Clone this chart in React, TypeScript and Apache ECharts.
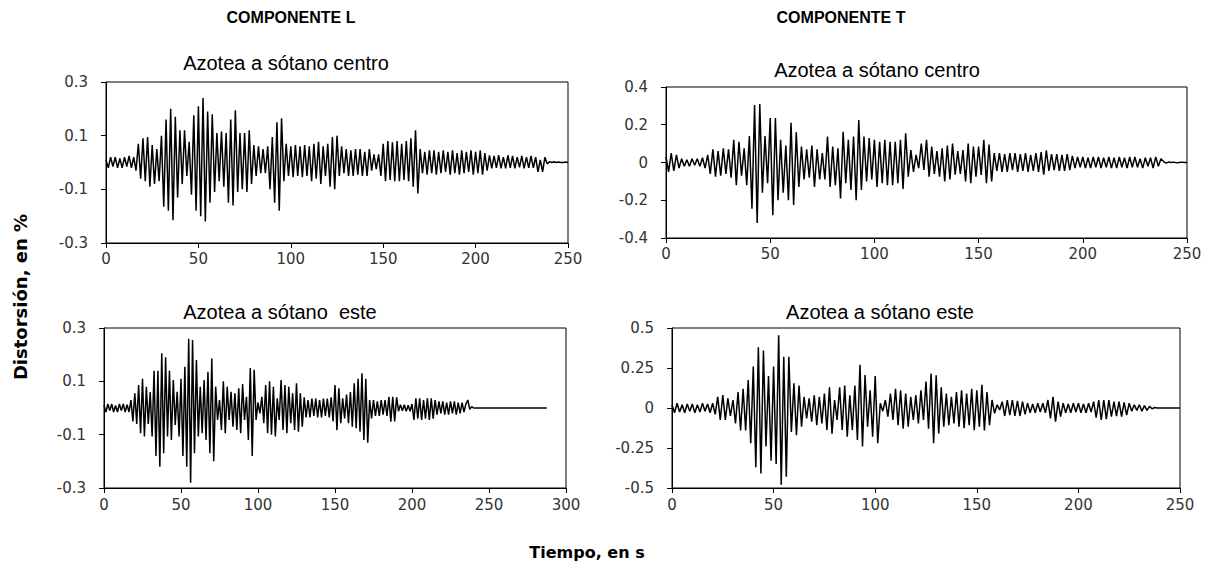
import { useEffect, useRef } from "react";
import * as echarts from "echarts";

// sampling step (s) of the digitised records
const DT = 1.25;

// Componente L, azotea a sótano centro (distorsión, %)
const lCentro = [
  0.01, -0.02, 0.02, -0.015, 0.02, -0.02, 0.015, -0.02, 0.02, -0.015,
  0.025, -0.02, 0.02, -0.03, 0.07, -0.06, 0.09, -0.07, 0.095, -0.09,
  0.065, -0.08, 0.05, -0.07, 0.1, -0.165, 0.16, -0.18, 0.2, -0.215,
  0.17, -0.13, 0.12, -0.08, 0.12, -0.05, 0.077, -0.12, 0.176, -0.18,
  0.21, -0.2, 0.24, -0.22, 0.19, -0.15, 0.18, -0.11, 0.11, -0.07,
  0.115, -0.09, 0.11, -0.15, 0.16, -0.16, 0.195, -0.11, 0.11, -0.1,
  0.11, -0.11, 0.12, -0.08, 0.065, -0.05, 0.06, -0.04, 0.05, -0.04,
  0.06, -0.1, 0.095, -0.15, 0.15, -0.18, 0.165, -0.07, 0.07, -0.05,
  0.06, -0.055, 0.065, -0.05, 0.06, -0.055, 0.065, -0.05, 0.06, -0.07,
  0.07, -0.06, 0.077, -0.08, 0.06, -0.05, 0.07, -0.09, 0.095, -0.1,
  0.1, -0.05, 0.06, -0.04, 0.05, -0.05, 0.045, -0.05, 0.05, -0.045,
  0.05, -0.05, 0.04, -0.05, 0.05, -0.03, 0.03, -0.025, 0.03, -0.05,
  0.07, -0.07, 0.08, -0.065, 0.075, -0.07, 0.08, -0.07, 0.07, -0.065,
  0.08, -0.07, 0.09, -0.09, 0.12, -0.115, 0.05, -0.04, 0.04, -0.045,
  0.045, -0.04, 0.045, -0.045, 0.04, -0.04, 0.045, -0.035, 0.04, -0.045,
  0.045, -0.04, 0.035, -0.045, 0.045, -0.04, 0.04, -0.035, 0.045, -0.045,
  0.04, -0.04, 0.045, -0.045, 0.035, -0.03, 0.027, -0.022, 0.025, -0.02,
  0.027, -0.022, 0.02, -0.022, 0.027, -0.02, 0.025, -0.022, 0.02, -0.018,
  0.025, -0.022, 0.02, -0.02, 0.025, -0.02, 0.02, -0.035, 0.01, -0.035,
  0.02, -0.005, 0.003, 0, 0.003, 0, 0.002, 0, 0, 0.002,
  0,
];

// Componente T, azotea a sótano centro
const tCentro = [
  0.03, -0.05, 0.05, -0.045, 0.04, -0.03, 0.02, -0.02, 0.015, -0.02,
  0.02, -0.015, 0.02, -0.02, 0.025, -0.03, 0.04, -0.06, 0.07, -0.075,
  0.06, -0.07, 0.075, -0.06, 0.07, -0.08, 0.12, -0.12, 0.11, -0.07,
  0.075, -0.12, 0.14, -0.245, 0.305, -0.32, 0.31, -0.16, 0.14, -0.11,
  0.235, -0.28, 0.235, -0.2, 0.12, -0.16, 0.09, -0.2, 0.21, -0.225,
  0.16, -0.13, 0.085, -0.09, 0.07, -0.08, 0.09, -0.13, 0.07, -0.09,
  0.05, -0.09, 0.137, -0.13, 0.085, -0.12, 0.075, -0.19, 0.163, -0.11,
  0.12, -0.145, 0.137, -0.2, 0.225, -0.145, 0.137, -0.1, 0.13, -0.09,
  0.12, -0.13, 0.11, -0.11, 0.12, -0.12, 0.11, -0.12, 0.11, -0.11,
  0.12, -0.14, 0.155, -0.075, 0.066, -0.05, 0.04, -0.03, 0.1, -0.04,
  0.12, -0.075, 0.085, -0.06, 0.06, -0.075, 0.075, -0.1, 0.09, -0.09,
  0.1, -0.065, 0.06, -0.06, 0.066, -0.1, 0.1, -0.11, 0.085, -0.075,
  0.085, -0.066, 0.12, -0.11, 0.095, -0.1, 0.05, -0.045, 0.05, -0.05,
  0.045, -0.05, 0.05, -0.04, 0.05, -0.05, 0.045, -0.045, 0.05, -0.05,
  0.04, -0.045, 0.05, -0.05, 0.055, -0.065, 0.065, -0.045, 0.045, -0.04,
  0.045, -0.045, 0.04, -0.045, 0.045, -0.04, 0.035, -0.03, 0.03, -0.025,
  0.03, -0.03, 0.025, -0.03, 0.03, -0.025, 0.03, -0.03, 0.025, -0.025,
  0.03, -0.03, 0.025, -0.03, 0.03, -0.025, 0.025, -0.03, 0.03, -0.025,
  0.03, -0.025, 0.02, -0.03, 0.025, -0.02, 0.025, -0.03, 0.03, -0.02,
  0.02, 0.005, -0.003, 0.003, 0, 0.002, -0.002, 0, 0.002, 0,
  0,
];

// Componente L, azotea a sótano este
const lEste = [
  0.01, -0.015, 0.015, -0.01, 0.015, -0.015, 0.01, -0.015, 0.015, -0.01,
  0.015, -0.015, 0.012, -0.015, 0.03, -0.05, 0.055, -0.06, 0.086, -0.095,
  0.11, -0.107, 0.08, -0.06, 0.06, -0.107, 0.14, -0.18, 0.14, -0.22,
  0.205, -0.17, 0.19, -0.107, 0.14, -0.12, 0.105, -0.064, 0.061, -0.107,
  0.11, -0.18, 0.155, -0.22, 0.26, -0.28, 0.255, -0.17, 0.18, -0.107,
  0.08, -0.095, 0.105, -0.12, 0.136, -0.17, 0.186, -0.2, 0.08, -0.045,
  0.03, -0.082, 0.1, -0.095, 0.08, -0.045, 0.061, -0.07, 0.055, -0.082,
  0.074, -0.095, 0.09, -0.045, 0.042, -0.12, 0.15, -0.18, 0.143, -0.045,
  0.02, -0.02, 0.042, -0.057, 0.086, -0.095, 0.1, -0.1, 0.08, -0.107,
  0.036, -0.045, 0.105, -0.082, 0.086, -0.095, 0.08, -0.057, 0.055, -0.082,
  0.093, -0.089, 0.055, -0.07, 0.04, -0.035, 0.03, -0.035, 0.035, -0.03,
  0.035, -0.035, 0.03, -0.035, 0.035, -0.03, 0.035, -0.035, 0.04, -0.05,
  0.086, -0.083, 0.074, -0.057, 0.036, -0.039, 0.05, -0.057, 0.06, -0.07,
  0.093, -0.076, 0.11, -0.089, 0.13, -0.12, 0.11, -0.13, 0.03, -0.039,
  0.03, -0.03, 0.025, -0.03, 0.03, -0.025, 0.03, -0.03, 0.042, -0.051,
  0.042, -0.05, 0.04, -0.012, 0.012, -0.01, 0.012, -0.012, 0.01, -0.012,
  0.015, -0.045, 0.036, -0.04, 0.036, -0.045, 0.03, -0.04, 0.036, -0.045,
  0.036, -0.04, 0.03, -0.025, 0.025, -0.02, 0.025, -0.025, 0.02, -0.025,
  0.025, -0.02, 0.025, -0.025, 0.02, -0.02, 0.02, -0.015, 0.015, 0.03,
  -0.005, 0.005, 0, 0, 0, 0, 0, 0, 0, 0,
  0, 0, 0, 0, 0, 0, 0, 0, 0, 0,
  0, 0, 0, 0, 0, 0, 0, 0, 0, 0,
  0, 0, 0, 0, 0, 0, 0, 0, 0, 0,
  0,
];

// Componente T, azotea a sótano este
const tEste = [
  0.02, -0.03, 0.03, -0.025, 0.02, -0.03, 0.025, -0.02, 0.025, -0.03,
  0.02, -0.025, 0.03, -0.02, 0.025, -0.03, 0.03, -0.04, 0.07, -0.075,
  0.08, -0.075, 0.06, -0.05, 0.05, -0.096, 0.1, -0.14, 0.12, -0.14,
  0.175, -0.22, 0.26, -0.37, 0.38, -0.41, 0.36, -0.24, 0.2, -0.33,
  0.26, -0.35, 0.455, -0.48, 0.32, -0.43, 0.32, -0.15, 0.155, -0.17,
  0.14, -0.117, 0.07, -0.065, 0.06, -0.085, 0.08, -0.107, 0.07, -0.096,
  0.09, -0.138, 0.13, -0.16, 0.05, -0.075, 0.13, -0.138, 0.14, -0.18,
  0.08, -0.138, 0.14, -0.2, 0.27, -0.24, 0.206, -0.117, 0.11, -0.18,
  0.2, -0.22, 0.03, -0.02, 0.05, -0.054, 0.09, -0.075, 0.12, -0.107,
  0.11, -0.13, 0.09, -0.117, 0.07, -0.075, 0.08, -0.096, 0.11, -0.075,
  0.165, -0.13, 0.215, -0.22, 0.205, -0.159, 0.13, -0.117, 0.09, -0.107,
  0.07, -0.096, 0.1, -0.117, 0.11, -0.127, 0.09, -0.107, 0.12, -0.138,
  0.11, -0.117, 0.145, -0.14, 0.1, -0.107, 0.05, -0.033, 0.02, -0.012,
  0.04, -0.05, 0.05, -0.045, 0.05, -0.05, 0.045, -0.05, 0.04, -0.04,
  0.03, -0.03, 0.025, -0.03, 0.03, -0.025, 0.03, -0.03, 0.05, -0.065,
  0.07, -0.085, 0.04, -0.054, 0.03, -0.03, 0.025, -0.03, 0.03, -0.025,
  0.03, -0.03, 0.025, -0.03, 0.03, -0.025, 0.04, -0.06, 0.05, -0.075,
  0.05, -0.07, 0.05, -0.054, 0.04, -0.05, 0.04, -0.054, 0.035, -0.045,
  0.03, -0.02, 0.02, -0.015, 0.02, -0.02, 0.015, -0.015, 0.01, -0.005,
  0.003, 0, 0, 0, 0, 0, 0, 0, 0, 0,
  0,
];

const panelTitles = [
  "Azotea a sótano centro",
  "Azotea a sótano centro",
  "Azotea a sótano  este",
  "Azotea a sótano este",
];
const componentTitles = ["COMPONENTE L", "COMPONENTE T"];
const yTitle = "Distorsión, en %";
const xTitle = "Tiempo, en s";

const xMax = [250, 250, 300, 250];
const yLimits = [
  { min: -0.3, max: 0.3, interval: 0.2 },
  { min: -0.4, max: 0.4, interval: 0.2 },
  { min: -0.3, max: 0.3, interval: 0.2 },
  { min: -0.5, max: 0.5, interval: 0.25 },
];
const series = [lCentro, tCentro, lEste, tEste];

const grids = [
  { left: 106, top: 82, width: 462, height: 161 },
  { left: 666, top: 87, width: 521, height: 151 },
  { left: 104, top: 328, width: 462, height: 160 },
  { left: 672, top: 328, width: 508, height: 160 },
];

const toPairs = (vals: number[]) => vals.map((v, i) => [i * DT, v]);
const fmt = (v: number) => String(parseFloat(v.toFixed(2)));

const TICK_FONT = "DejaVu Sans";

export default function App() {
  const ref = useRef<HTMLDivElement>(null);
  useEffect(() => {
    if (!ref.current) return;
    const chart = echarts.init(ref.current, null, { renderer: "svg" });
    const axisLine = { show: true, onZero: false, lineStyle: { color: "#000", width: 1 } };
    const axisTick = { show: true, length: 5, lineStyle: { color: "#000", width: 1 } };
    const txt = (text: string, x: number, y: number, font: string, rotation = 0) => ({
      type: "text",
      x,
      y,
      rotation,
      style: { text, font, fill: "#000", textAlign: "center", textVerticalAlign: "middle" },
    });
    chart.setOption({
      animation: false,
      backgroundColor: "#fff",
      grid: grids.map((g) => ({
        ...g,
        show: true,
        borderColor: "#000",
        borderWidth: 1,
        backgroundColor: "transparent",
        containLabel: false,
      })),
      xAxis: grids.map((_, i) => ({
        type: "value",
        gridIndex: i,
        min: 0,
        max: xMax[i],
        interval: 50,
        axisLine,
        axisTick,
        splitLine: { show: false },
        axisLabel: {
          color: "#333",
          fontSize: 15,
          fontFamily: TICK_FONT,
          margin: i < 2 ? 8 : 9,
        },
      })),
      yAxis: grids.map((_, i) => ({
        type: "value",
        gridIndex: i,
        min: yLimits[i].min,
        max: yLimits[i].max,
        interval: yLimits[i].interval,
        axisLine,
        axisTick,
        splitLine: { show: false },
        axisLabel: {
          color: "#333",
          fontSize: 15,
          fontFamily: TICK_FONT,
          margin: 18,
          formatter: (v: number) => fmt(v),
        },
      })),
      series: series.map((vals, i) => ({
        type: "line",
        xAxisIndex: i,
        yAxisIndex: i,
        data: toPairs(vals),
        showSymbol: false,
        symbol: "none",
        lineStyle: { color: "#000", width: 1.5 },
      })),
      graphic: [
        txt(componentTitles[0], 291, 17, "bold 16px 'Liberation Sans'"),
        txt(componentTitles[1], 841, 17, "bold 16px 'Liberation Sans'"),
        txt(panelTitles[0], 286, 63, "20px 'Liberation Sans'"),
        txt(panelTitles[1], 877, 70, "20px 'Liberation Sans'"),
        txt(panelTitles[2], 280, 312, "20px 'Liberation Sans'"),
        txt(panelTitles[3], 880, 312, "20px 'Liberation Sans'"),
        txt(yTitle, 20, 297, "bold 18px 'DejaVu Sans'", Math.PI / 2),
        txt(xTitle, 587, 552, "bold 16px 'DejaVu Sans'"),
      ],
    });
    return () => chart.dispose();
  }, []);
  return (
    <div
      ref={ref}
      style={{ position: "absolute", left: 0, top: 0, width: 1215, height: 569, background: "#fff" }}
    />
  );
}
